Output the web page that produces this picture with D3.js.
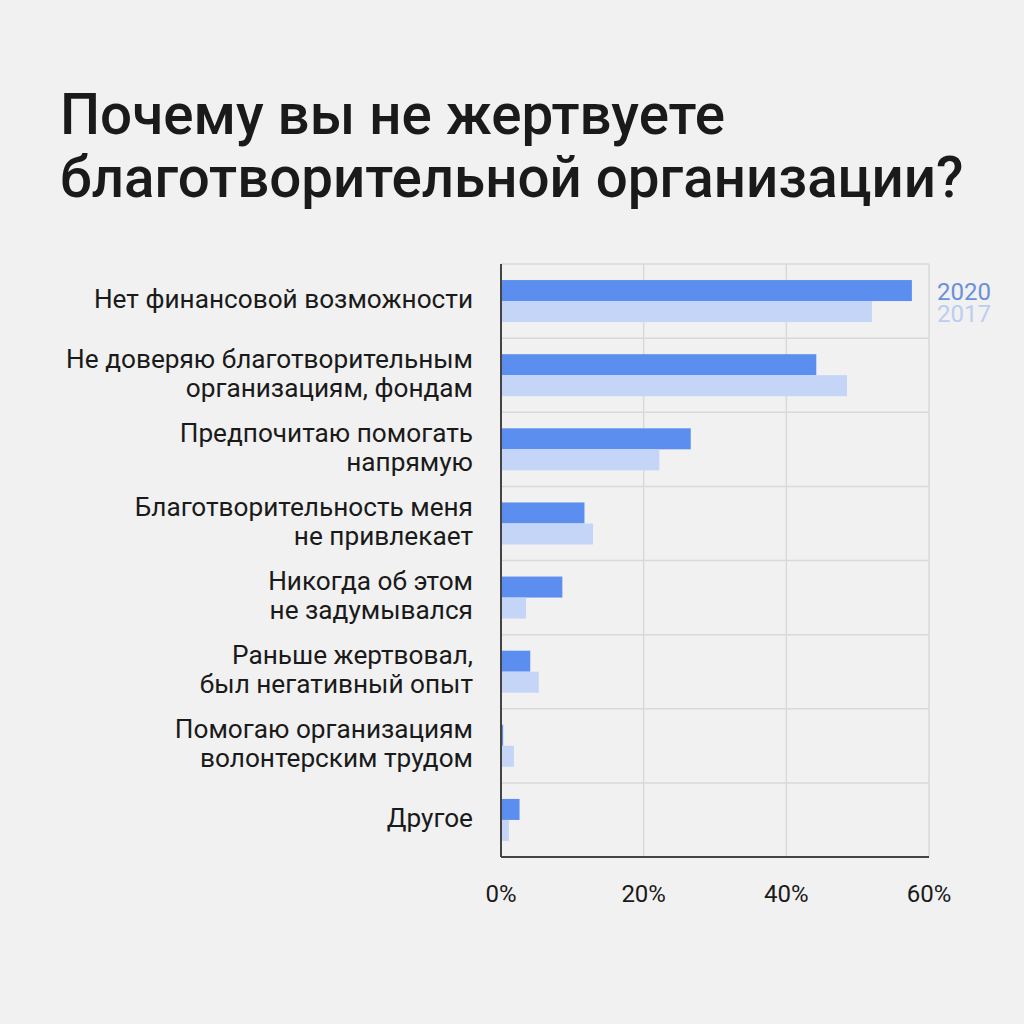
<!DOCTYPE html>
<html>
<head>
<meta charset="utf-8">
<script src="https://cdn.jsdelivr.net/npm/d3@7"></script>
<style>
	body { margin: 0; background: #f1f1f1; }
	text { font-family: Roboto, "Noto Sans", sans-serif; }
</style>
</head>
<body>
<div id="vis"></div>
<script>
// categories (each label split into lines)
const categories = [
	["Нет финансовой возможности"],
	["Не доверяю благотворительным", "организациям, фондам"],
	["Предпочитаю помогать", "напрямую"],
	["Благотворительность меня", "не привлекает"],
	["Никогда об этом", "не задумывался"],
	["Раньше жертвовал,", "был негативный опыт"],
	["Помогаю организациям", "волонтерским трудом"],
	["Другое"]
];
const years = ["2020", "2017"];
const values2020 = [57.6, 44.2, 26.6, 11.7, 8.6, 4.1, 0.3, 2.6];
const values2017 = [52.0, 48.5, 22.2, 12.9, 3.5, 5.3, 1.8, 1.1];
const xTicks = [0, 20, 40, 60];

const draw = () => {
	const W = 1024, H = 1024;
	const colors = { "2020": "#5b8eef", "2017": "#c4d5f8" };
	const legendColors = { "2020": "#6b8fdb", "2017": "#bccdf0" };

	const svg = d3.select("#vis").append("svg")
		.attr("width", W)
		.attr("height", H);

	svg.append("rect").attr("width", W).attr("height", H).attr("fill", "#f1f1f1");

	// title
	const title = svg.append("text")
		.attr("font-size", 56.5)
		.attr("font-weight", 500)
		.attr("fill", "#1a1a1a");
	title.append("tspan").attr("x", 60).attr("y", 134).text("Почему вы не жертвуете");
	title.append("tspan").attr("x", 60).attr("y", 197).text("благотворительной организации?");

	const plotL = 501, plotR = 929, plotT = 264, plotB = 857;

	const x = d3.scaleLinear().domain([0, 60]).range([plotL, plotR]);
	const y = d3.scaleBand().domain(d3.range(categories.length)).range([plotT, plotB]);
	const yInner = d3.scaleBand().domain(years).range([0, 42]);

	// grid
	const grid = svg.append("g");
	grid.selectAll(".vgrid").data(xTicks.slice(1)).join("line")
		.attr("class", "vgrid")
		.attr("x1", d => x(d)).attr("x2", d => x(d))
		.attr("y1", plotT).attr("y2", plotB)
		.attr("stroke", "#d9d9d9").attr("stroke-width", 1.5);
	grid.selectAll(".hgrid").data(d3.range(categories.length)).join("line")
		.attr("class", "hgrid")
		.attr("x1", plotL).attr("x2", plotR)
		.attr("y1", d => y(d)).attr("y2", d => y(d))
		.attr("stroke", "#d9d9d9").attr("stroke-width", 1.5);

	// bars
	const series = [
		{ year: "2020", vals: values2020 },
		{ year: "2017", vals: values2017 }
	];
	const offset = (y.bandwidth() - 42) / 2;
	series.forEach(s => {
		svg.append("g").selectAll("rect").data(s.vals).join("rect")
			.attr("x", x(0))
			.attr("y", (d, i) => y(i) + offset + yInner(s.year))
			.attr("width", d => x(d) - x(0))
			.attr("height", yInner.bandwidth())
			.attr("fill", colors[s.year]);
	});

	// axis lines
	svg.append("line")
		.attr("x1", plotL).attr("x2", plotL).attr("y1", plotT).attr("y2", plotB)
		.attr("stroke", "#444").attr("stroke-width", 2);
	svg.append("line")
		.attr("x1", plotL).attr("x2", plotR).attr("y1", plotB).attr("y2", plotB)
		.attr("stroke", "#444").attr("stroke-width", 2);

	// x tick labels
	svg.append("g").selectAll("text").data(xTicks).join("text")
		.attr("x", d => x(d))
		.attr("y", 902)
		.attr("text-anchor", "middle")
		.attr("font-size", 24)
		.attr("fill", "#1a1a1a")
		.text(d => d + "%");

	// category labels
	const lineH = 29;
	const labels = svg.append("g").selectAll("text").data(categories).join("text")
		.attr("text-anchor", "end")
		.attr("font-size", 26.2)
		.attr("fill", "#1a1a1a");
	labels.each(function(lines, i) {
		const cy = y(i) + y.bandwidth() / 2;
		const y0 = cy - (lines.length - 1) * lineH / 2 + 7;
		d3.select(this).selectAll("tspan").data(lines).join("tspan")
			.attr("x", 473)
			.attr("y", (d, j) => y0 + j * lineH)
			.text(d => d);
	});

	// legend
	svg.append("g").selectAll("text").data(years).join("text")
		.attr("x", 937)
		.attr("y", (d, i) => 300 + i * 22)
		.attr("font-size", 24)
		.attr("fill", d => legendColors[d])
		.text(d => d);
};

draw();
</script>
</body>
</html>
